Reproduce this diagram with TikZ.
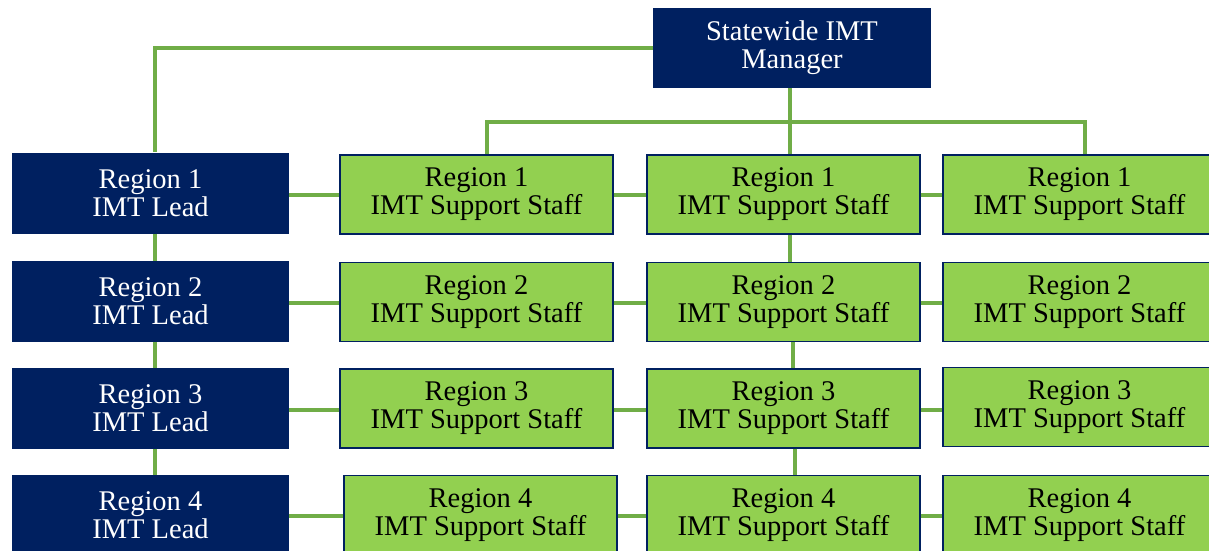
\documentclass[tikz,border=0pt]{standalone}
\usepackage{fontspec}
\setmainfont{Liberation Serif}
\definecolor{navy}{HTML}{002060}
\definecolor{leaf}{HTML}{92D050}
\definecolor{wire}{HTML}{70AD47}
\tikzset{
  lead/.style={fill=navy, draw=none, text=white, align=center,
    minimum width=277pt, minimum height=81pt, inner sep=0pt,
    font=\fontsize{28.5}{28}\selectfont},
  staff/.style={fill=leaf, draw=navy, line width=1.3pt, text=black, align=center,
    minimum width=273pt, minimum height=79pt, inner sep=0pt,
    font=\fontsize{28.5}{28}\selectfont},
  boss/.style={lead, minimum width=278pt, minimum height=80pt},
  link/.style={draw=wire, line width=3.4pt},
}
\begin{document}
\begin{tikzpicture}[x=1pt, y=-1pt]
\useasboundingbox (0,0) rectangle (1209,550);
\clip (0,0) rectangle (1209,550);

% bend points of the elbow connectors
\coordinate (mgrc) at (792,48);
\coordinate (bend) at (155,48);
\coordinate (busL) at (487,122);
\coordinate (busR) at (1085,122);
\coordinate (busM) at (790,122);

% connectors are drawn first so the boxes sit on top of them
\draw[link] (mgrc) -- (bend) -- (155,152);
\draw[link] (790,48) -- (busM) -- (790,154);
\draw[link] (487,154) -- (busL) -- (busR) -- (1085,154);

% top manager
\node[boss] (mgr) at (mgrc) {Statewide IMT\\Manager};

% regional leads
\node[lead] (l1) at (150.5,193.5) {Region 1\\IMT Lead};
\node[lead] (l2) at (150.5,301.5) {Region 2\\IMT Lead};
\node[lead] (l3) at (150.5,408.5) {Region 3\\IMT Lead};
\node[lead] (l4) at (150.5,515.5) {Region 4\\IMT Lead};

% support staff, three per region
\node[staff] (a1) at (476.5,194.5) {Region 1\\IMT Support Staff};
\node[staff] (b1) at (783.5,194.5) {Region 1\\IMT Support Staff};
\node[staff] (c1) at (1079.5,194.5) {Region 1\\IMT Support Staff};
\node[staff] (a2) at (476.5,302) {Region 2\\IMT Support Staff};
\node[staff] (b2) at (783.5,302) {Region 2\\IMT Support Staff};
\node[staff] (c2) at (1079.5,302) {Region 2\\IMT Support Staff};
\node[staff] (a3) at (476.5,408.5) {Region 3\\IMT Support Staff};
\node[staff] (b3) at (783.5,408.5) {Region 3\\IMT Support Staff};
\node[staff] (c3) at (1079.5,407) {Region 3\\IMT Support Staff};
\node[staff] (a4) at (480.5,515) {Region 4\\IMT Support Staff};
\node[staff] (b4) at (783.5,515) {Region 4\\IMT Support Staff};
\node[staff] (c4) at (1079.5,515) {Region 4\\IMT Support Staff};

% lead chain
\draw[link] (l1.south -| bend) -- (l2.north -| bend);
\draw[link] (l2.south -| bend) -- (l3.north -| bend);
\draw[link] (l3.south -| bend) -- (l4.north -| bend);
% middle staff chain
\draw[link] (b1.south -| 790,0) -- (b2.north -| 790,0);
\draw[link] (b2.south -| 793,0) -- (b3.north -| 793,0);
\draw[link] (b3.south -| 795,0) -- (b4.north -| 795,0);
% row links
\foreach \r/\y in {1/195,2/303,3/410,4/516}{
  \draw[link] (l\r.east |- 0,\y) -- (a\r.west |- 0,\y);
  \draw[link] (a\r.east |- 0,\y) -- (b\r.west |- 0,\y);
  \draw[link] (b\r.east |- 0,\y) -- (c\r.west |- 0,\y);
}
\end{tikzpicture}
\end{document}
